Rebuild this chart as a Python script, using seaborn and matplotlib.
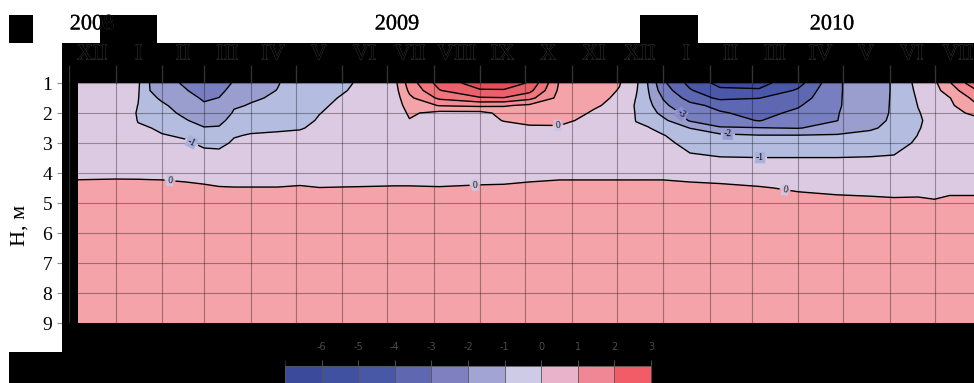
import numpy as np
import pandas as pd
import matplotlib
matplotlib.use("Agg")
import matplotlib.pyplot as plt
import matplotlib.patheffects as pe
from matplotlib.colors import ListedColormap, BoundaryNorm
from matplotlib.cm import ScalarMappable
from matplotlib.patches import Rectangle
import seaborn as sns

# ---------------------------------------------------------------- data
depths = [1.0, 1.25, 1.5, 1.75, 2.0, 2.25, 2.5, 2.75, 3.0, 3.5, 4.0, 4.5, 5.0, 9.0]

dates = [
    "2008-12-01", "2009-01-01", "2009-01-16", "2009-01-24", "2009-02-01",
    "2009-02-17", "2009-03-01", "2009-03-11", "2009-03-21", "2009-04-01",
    "2009-04-19", "2009-05-04", "2009-05-17", "2009-05-30", "2009-06-13",
    "2009-07-06", "2009-07-16", "2009-08-05", "2009-09-01", "2009-09-17",
    "2009-10-04", "2009-10-24", "2009-11-16", "2009-12-03", "2009-12-14",
    "2009-12-22", "2010-01-01", "2010-01-19", "2010-02-08", "2010-03-06",
    "2010-04-01", "2010-04-27", "2010-05-19", "2010-06-04", "2010-06-20",
    "2010-07-01", "2010-07-11", "2010-08-01",
]

# ground temperature, deg C: one profile (over `depths`) per date
temperature = [
    [-0.40, -0.45, -0.50, -0.50, -0.50, -0.50, -0.50, -0.50, -0.45, -0.35, -0.25, 0.29, 0.40, 0.5],
    [-0.70, -0.60, -0.55, -0.50, -0.50, -0.50, -0.50, -0.50, -0.45, -0.35, -0.25, 0.37, 0.40, 0.5],
    [-0.85, -0.90, -0.95, -1.01, -1.05, -1.02, -0.95, -0.70, -0.50, -0.40, -0.25, 0.35, 0.40, 0.5],
    [-2.05, -2.00, -1.85, -1.70, -1.50, -1.25, -0.98, -0.85, -0.70, -0.45, -0.30, 0.38, 0.40, 0.5],
    [-2.60, -2.40, -2.10, -1.90, -1.70, -1.45, -1.15, -0.95, -0.80, -0.50, -0.30, 0.35, 0.40, 0.5],
    [-3.15, -2.95, -2.60, -2.30, -2.20, -1.95, -1.40, -1.10, -0.90, -0.55, -0.30, 0.20, 0.40, 0.5],
    [-3.60, -3.40, -3.15, -2.85, -2.60, -2.30, -1.95, -1.45, -1.15, -0.70, -0.35, 0.12, 0.35, 0.5],
    [-3.50, -3.30, -2.98, -2.80, -2.60, -2.30, -1.90, -1.50, -1.20, -0.70, -0.35, 0.04, 0.30, 0.5],
    [-2.90, -2.60, -2.35, -2.10, -1.90, -1.60, -1.30, -1.05, -0.90, -0.60, -0.30, 0.02, 0.30, 0.5],
    [-2.50, -2.30, -2.10, -1.95, -1.80, -1.50, -1.15, -0.95, -0.80, -0.55, -0.30, 0.02, 0.30, 0.5],
    [-2.05, -1.98, -1.90, -1.75, -1.60, -1.35, -1.10, -0.90, -0.75, -0.50, -0.30, 0.02, 0.30, 0.5],
    [-1.60, -1.60, -1.55, -1.50, -1.45, -1.25, -1.05, -0.85, -0.70, -0.50, -0.30, 0.06, 0.30, 0.5],
    [-1.35, -1.30, -1.20, -1.10, -1.02, -0.92, -0.85, -0.75, -0.65, -0.50, -0.30, 0.01, 0.30, 0.5],
    [-1.20, -1.10, -0.98, -0.90, -0.80, -0.75, -0.70, -0.65, -0.60, -0.45, -0.30, 0.02, 0.30, 0.5],
    [-0.90, -0.85, -0.80, -0.75, -0.70, -0.68, -0.65, -0.60, -0.55, -0.45, -0.30, 0.03, 0.30, 0.5],
    [-0.30, -0.40, -0.50, -0.55, -0.60, -0.60, -0.60, -0.58, -0.55, -0.45, -0.30, 0.05, 0.30, 0.5],
    [1.50, 1.20, 0.80, 0.45, 0.15, -0.05, -0.40, -0.45, -0.50, -0.45, -0.30, 0.05, 0.30, 0.5],
    [3.40, 2.95, 2.20, 1.05, -0.30, -0.40, -0.50, -0.50, -0.50, -0.45, -0.30, 0.03, 0.30, 0.5],
    [4.50, 3.90, 2.90, 1.20, -0.30, -0.40, -0.45, -0.50, -0.50, -0.45, -0.30, 0.08, 0.30, 0.5],
    [4.60, 3.90, 2.95, 1.10, 0.30, 0.05, -0.40, -0.45, -0.50, -0.45, -0.30, 0.10, 0.30, 0.5],
    [3.90, 3.30, 2.30, 0.80, 0.50, 0.25, -0.15, -0.35, -0.45, -0.40, -0.25, 0.17, 0.30, 0.5],
    [0.90, 0.80, 0.70, 0.60, 0.45, 0.20, -0.10, -0.30, -0.40, -0.35, -0.25, 0.29, 0.35, 0.5],
    [0.50, 0.40, 0.25, 0.10, -0.10, -0.25, -0.35, -0.40, -0.45, -0.40, -0.25, 0.29, 0.35, 0.5],
    [0.05, -0.05, -0.15, -0.25, -0.35, -0.40, -0.45, -0.50, -0.50, -0.40, -0.25, 0.29, 0.35, 0.5],
    [-0.80, -0.90, -1.02, -1.10, -1.05, -1.02, -0.90, -0.75, -0.60, -0.45, -0.25, 0.29, 0.35, 0.5],
    [-2.05, -1.95, -1.85, -1.65, -1.50, -1.25, -0.95, -0.80, -0.70, -0.50, -0.30, 0.35, 0.40, 0.5],
    [-3.80, -3.50, -3.05, -2.80, -2.30, -1.75, -1.30, -0.95, -0.75, -0.55, -0.30, 0.35, 0.40, 0.5],
    [-5.30, -4.90, -4.40, -3.70, -3.40, -3.10, -2.02, -1.50, -1.30, -0.85, -0.45, 0.30, 0.40, 0.5],
    [-6.30, -5.80, -5.20, -4.30, -3.90, -3.55, -2.90, -1.75, -1.60, -0.95, -0.50, 0.21, 0.35, 0.5],
    [-6.30, -5.90, -5.02, -4.60, -4.30, -4.05, -2.95, -1.95, -1.70, -0.98, -0.50, 0.06, 0.30, 0.5],
    [-5.40, -4.85, -4.50, -4.10, -3.80, -3.40, -3.05, -1.95, -1.70, -0.98, -0.50, -0.10, 0.30, 0.5],
    [-3.10, -3.10, -3.10, -3.10, -3.05, -3.02, -2.60, -1.90, -1.70, -0.98, -0.50, -0.25, 0.30, 0.5],
    [-2.50, -2.50, -2.45, -2.40, -2.35, -2.25, -2.10, -1.80, -1.55, -0.95, -0.55, -0.30, 0.25, 0.5],
    [-1.90, -1.90, -1.90, -1.90, -1.90, -1.88, -1.80, -1.60, -1.40, -0.90, -0.60, -0.35, 0.20, 0.5],
    [-0.70, -0.80, -0.90, -0.98, -1.05, -1.10, -1.05, -0.98, -0.85, -0.70, -0.50, -0.30, 0.20, 0.5],
    [-0.20, -0.35, -0.50, -0.60, -0.70, -0.75, -0.75, -0.70, -0.65, -0.60, -0.50, -0.30, 0.10, 0.5],
    [0.90, 0.50, -0.05, -0.20, -0.40, -0.50, -0.60, -0.60, -0.60, -0.55, -0.45, -0.20, 0.20, 0.5],
    [3.10, 2.20, 1.60, 1.10, 0.40, -0.20, -0.40, -0.50, -0.55, -0.50, -0.45, -0.20, 0.20, 0.5],
]

levels = [-7, -6, -5, -4, -3, -2, -1, 0, 1, 2, 3, 4, 5]
fill_colors = ["#3f4c9f", "#4b57a8", "#5d67b2", "#777fc1", "#9a9ecf", "#b4bce0",
               "#dccae2", "#f4a3a8", "#f28d93", "#ee767c", "#e9616a", "#e4505a"]
plain_levels = [-6, -5, -4, 1, 2, 3, 4]
labelled_levels = [-3, -2, -1, 0]

bar_levels = [-7, -6, -5, -4, -3, -2, -1, 0, 1, 2, 3]
bar_colors = ["#3c4a9b", "#4151a2", "#4957a7", "#5f67b0", "#7e80bf",
              "#a2a5d3", "#cdcbe5", "#e8b3cb", "#ef8894", "#f15c66"]
bar_ticks = [-6, -5, -4, -3, -2, -1, 0, 1, 2, 3]

month_labels = ["XII", "I", "II", "III", "IV", "V", "VI", "VII", "VIII", "IX",
                "X", "XI", "XII", "I", "II", "III", "IV", "V", "VI", "VII"]
year_labels = ["2008", "2009", "2010"]
depth_ticks = [1, 2, 3, 4, 5, 6, 7, 8, 9]
depth_label = "H, м"

# ---------------------------------------------------------------- style
sns.set_theme(style="white")
plt.rcParams["font.family"] = ["Liberation Serif", "DejaVu Serif"]
plt.rcParams["axes.unicode_minus"] = False
plt.rcParams["contour.negative_linestyle"] = "solid"

W, H = 974, 383


def fx(px):
    return px / W


def fy(py):
    return 1 - py / H


t0 = pd.Timestamp(dates[0])
days = (pd.to_datetime(dates) - t0).days.to_numpy(dtype=float)
month_starts = pd.date_range(t0, periods=len(month_labels) + 1, freq="MS")
month_days = (month_starts - t0).days.to_numpy(dtype=float)
month_mids = (month_days[:-1] + month_days[1:]) / 2
x_end = month_days[-1]

Z = np.array(temperature, dtype=float).T  # depth x date

fig = plt.figure(figsize=(W / 100, H / 100), dpi=100, facecolor="white")

# main section
ax = fig.add_axes([fx(69), fy(323), fx(981) - fx(69), fy(83) - fy(323)])
ax.contourf(days, depths, Z, levels=levels, colors=fill_colors, zorder=1)
ax.contour(days, depths, Z, levels=plain_levels, colors="black",
           linewidths=1.0, linestyles="solid", zorder=2)
cs = ax.contour(days, depths, Z, levels=labelled_levels, colors="black",
                linewidths=1.0, linestyles="solid", zorder=2)
ax.set_xlim(0, x_end)
ax.set_ylim(9, 1)
ax.set_xticks(month_days)
ax.set_yticks(depth_ticks)
ax.grid(True, color="black", alpha=0.33, linewidth=0.8)
ax.set_axisbelow(False)
ax.tick_params(axis="x", length=0, labelbottom=False)
ax.tick_params(axis="y", left=True, length=8.6, width=0.8, color="#8a8a8a",
               pad=3.6, labelsize=14, labelcolor="black")
sns.despine(ax=ax, left=True, bottom=True, top=True, right=True)

# contour labels
label_points = [(80.7, 3.07), (326.0, 2.40), (67.3, 4.27), (270.7, 4.40),
                (408.7, 2.00), (439.3, 2.63), (460.7, 3.47), (477.3, 4.57)]
texts = ax.clabel(cs, manual=label_points, inline=True, inline_spacing=3,
                  fontsize=7, colors="black", fmt=lambda v: f"{v:.0f}")
box_fc = {0: "#cdc6e2", -1: "#a9b0da", -2: "#979bcf", -3: "#8a8fca"}
for t in texts:
    val = int(float(t.get_text()))
    t.set_bbox(dict(boxstyle="square,pad=0.12", fc=box_fc.get(val, "#cccccc"),
                    ec="none"))

fig.text(fx(20), fy(225), depth_label, rotation=90, ha="center", va="center",
         fontsize=16, color="black")

# dark frame pieces
for (x0, y0, x1, y1) in [(9, 15, 33, 43), (100, 15, 157, 43), (640, 15, 698, 43),
                         (62, 43, 974, 83), (62, 83, 78, 323),
                         (62, 323, 974, 383), (9, 352, 62, 383)]:
    fig.add_artist(Rectangle((fx(x0), fy(y1)), fx(x1) - fx(x0), fy(y0) - fy(y1),
                             transform=fig.transFigure, facecolor="black",
                             edgecolor="none", zorder=1))

# month band on top of the frame
stroke = [pe.withStroke(linewidth=0.6, foreground="#3c3c3c")]
ax_top = fig.add_axes([fx(69), fy(323), fx(981) - fx(69), fy(43) - fy(323)])
ax_top.set_zorder(3)
ax_top.patch.set_visible(False)
ax_top.set_axis_off()
ax_top.set_xlim(0, x_end)
ax_top.set_ylim(9, 1 - 40 / 30)
ax_top.vlines(month_days, 1 - 18 / 30, 1.0, colors="#333333", linewidth=1.0)
ax_top.vlines([month_days[0]], 1.0, 9.0, colors="#2a2a2a", linewidth=1.0)
for xm, lab in zip(month_mids, month_labels):
    ax_top.text(xm, 1 - 28 / 30, lab, ha="center", va="center", fontsize=16,
                color="black", path_effects=stroke, clip_on=False)

year_stroke = [pe.withStroke(linewidth=0.3, foreground="#4a4a4a")]
for px, lab in zip([92, 397, 832], year_labels):
    fig.text(fx(px), fy(25), lab, ha="center", va="center", fontsize=16,
             color="black", path_effects=year_stroke, zorder=4)

# colour scale
cax = fig.add_axes([fx(285), fy(392), fx(651) - fx(285), fy(366) - fy(392)])
cax.set_zorder(3)
norm = BoundaryNorm(bar_levels, ncolors=len(bar_colors))
cb = fig.colorbar(ScalarMappable(norm=norm, cmap=ListedColormap(bar_colors)),
                  cax=cax, orientation="horizontal", ticks=bar_ticks,
                  drawedges=True)
cb.outline.set_edgecolor("#555555")
cb.outline.set_linewidth(0.6)
cb.dividers.set_color("#555555")
cb.dividers.set_linewidth(0.6)
cax.xaxis.set_ticks_position("top")
cax.set_xticklabels([str(v) for v in bar_ticks])
cax.tick_params(axis="x", colors="#4a4a4a", length=4.3, width=0.8, pad=6,
                labelsize=7, direction="out")
for lbl in cax.get_xticklabels():
    lbl.set_fontfamily("DejaVu Sans")

fig.savefig("out.png", dpi=100, facecolor="white")
